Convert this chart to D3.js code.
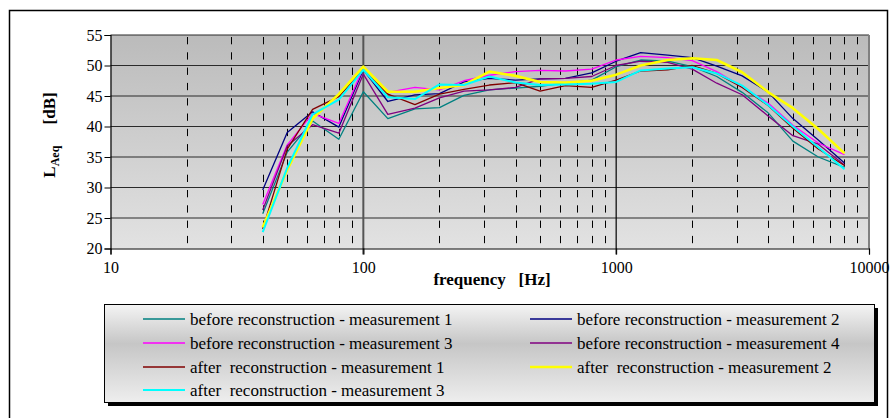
<!DOCTYPE html>
<head>
<title>LAeq before / after reconstruction</title>
<script src="https://d3js.org/d3.v7.min.js"></script>
<style>
  body { margin: 0; background: #fff; }
  svg text { font-family: "Liberation Serif", "Times New Roman", serif; fill: #000; }
</style>
</head>
<body>
<div id="home"></div>
<script>
// third-octave band centre frequencies
const freqs = [40, 50, 63, 80, 100, 125, 160, 200, 250, 315, 400, 500, 630, 800,
               1000, 1250, 1600, 2000, 2500, 3150, 4000, 5000, 6300, 8000];

const before1 = [25.7, 35.8, 40.9, 37.9, 45.7, 41.3, 42.9, 43.1, 45.1, 46.0, 46.3, 46.6, 47.1, 47.6,
                 49.8, 50.9, 50.7, 49.8, 48.2, 45.6, 42.2, 37.6, 35.0, 33.3];
const before2 = [29.6, 39.0, 42.4, 39.9, 49.3, 44.1, 45.2, 45.4, 47.3, 47.9, 47.6, 47.8, 47.9, 48.8,
                 50.7, 52.1, 51.7, 51.3, 49.9, 48.3, 45.6, 41.3, 37.8, 34.0];
const before3 = [27.2, 37.0, 42.1, 40.5, 49.6, 45.6, 46.4, 46.0, 47.5, 48.4, 49.0, 49.2, 49.1, 49.4,
                 50.9, 51.5, 51.3, 50.8, 49.0, 46.5, 43.8, 40.2, 37.3, 35.4];
const before4 = [26.3, 36.8, 40.3, 38.9, 48.6, 42.0, 43.0, 44.7, 45.8, 46.0, 46.4, 47.8, 47.9, 48.2,
                 50.0, 50.7, 50.5, 49.4, 47.1, 45.2, 41.7, 38.5, 37.1, 33.7];
const after1  = [23.2, 36.3, 42.8, 44.9, 49.3, 45.3, 43.6, 45.3, 46.1, 46.8, 47.2, 45.8, 46.7, 46.4,
                 47.6, 49.1, 49.3, 50.0, 48.7, 46.4, 43.4, 39.7, 36.3, 33.6];
const after2  = [23.5, 32.9, 41.3, 45.3, 49.8, 45.7, 45.7, 46.3, 46.8, 49.0, 48.3, 47.3, 47.2, 47.5,
                 48.5, 50.0, 50.9, 51.2, 50.9, 48.9, 45.6, 43.0, 39.6, 35.6];
const after3  = [22.7, 33.2, 42.0, 44.4, 49.3, 44.8, 44.5, 46.9, 46.8, 48.2, 47.2, 46.8, 46.9, 47.0,
                 47.3, 49.2, 49.5, 49.7, 48.7, 46.7, 43.5, 40.0, 36.6, 33.0];

const seriesNames = ["before reconstruction - measurement 1", "before reconstruction - measurement 2",
                     "before reconstruction - measurement 3", "before reconstruction - measurement 4",
                     "after  reconstruction - measurement 1", "after  reconstruction - measurement 2",
                     "after  reconstruction - measurement 3"];
const seriesValues = [before1, before2, before3, before4, after1, after2, after3];
const seriesColors = ["#008080", "#000080", "#ff00ff", "#800080", "#800000", "#ffff00", "#00ffff"];
const seriesWidths = [1.3, 1.3, 1.3, 1.3, 1.3, 2.6, 2];

const yTicks = [20, 25, 30, 35, 40, 45, 50, 55];
const xTicks = [10, 100, 1000, 10000];
const minorFreqs = [20, 30, 40, 50, 60, 70, 80, 90, 200, 300, 400, 500, 600, 700, 800, 900,
                    2000, 3000, 4000, 5000, 6000, 7000, 8000, 9000];

const serif = "'Liberation Serif', 'Times New Roman', serif";
const w = 890, h = 418;
const svg = d3.select("#home").append("svg").attr("width", w).attr("height", h)
              .attr("font-family", serif);

const defs = svg.append("defs");
const pg = defs.append("linearGradient").attr("id", "plotbg").attr("x1", 0).attr("y1", 0).attr("x2", 0).attr("y2", 1);
pg.append("stop").attr("offset", 0).attr("stop-color", "#bbbbbb");
pg.append("stop").attr("offset", 1).attr("stop-color", "#e2e2e2");
const lg = defs.append("linearGradient").attr("id", "legbg").attr("x1", 0).attr("y1", 0).attr("x2", 0).attr("y2", 1);
lg.append("stop").attr("offset", 0).attr("stop-color", "#f4f4f4");
lg.append("stop").attr("offset", 0.4).attr("stop-color", "#c6c6c6");
lg.append("stop").attr("offset", 1).attr("stop-color", "#eeeeee");

// outer frame
svg.append("rect").attr("x", 9.5).attr("y", 10.5).attr("width", 878).attr("height", 430)
   .attr("fill", "none").attr("stroke", "#000").attr("stroke-width", 1.5);

const x = d3.scaleLog().domain([10, 10000]).range([110.5, 869]);
const y = d3.scaleLinear().domain([20, 55]).range([248.5, 35]);

svg.append("rect").attr("x", x(10)).attr("y", y(55)).attr("width", x(10000) - x(10)).attr("height", y(20) - y(55))
   .attr("fill", "url(#plotbg)");

// horizontal grid
svg.selectAll(".hgrid").data(yTicks.slice(1)).enter().append("line")
   .attr("x1", x(10)).attr("x2", x(10000)).attr("y1", d => y(d)).attr("y2", d => y(d))
   .attr("stroke", "#2a2a2a").attr("stroke-width", 1.2);

// vertical dashed grid
svg.selectAll(".vgrid").data(minorFreqs).enter().append("line")
   .attr("x1", d => Math.round(x(d)) + 0.5).attr("x2", d => Math.round(x(d)) + 0.5)
   .attr("y1", y(55) + 2).attr("y2", y(20))
   .attr("stroke", "#000").attr("stroke-width", 1).attr("stroke-dasharray", "7.3,8");

svg.append("line").attr("x1", x(100)).attr("x2", x(100)).attr("y1", y(55)).attr("y2", y(20) + 6)
   .attr("stroke", "#555").attr("stroke-width", 2);
svg.append("line").attr("x1", x(1000)).attr("x2", x(1000)).attr("y1", y(55)).attr("y2", y(20) + 6)
   .attr("stroke", "#000").attr("stroke-width", 1.2);
svg.append("line").attr("x1", x(10000)).attr("x2", x(10000)).attr("y1", y(55)).attr("y2", y(20))
   .attr("stroke", "#808080").attr("stroke-width", 2);

// axes
const yAxis = d3.axisLeft(y).tickValues(yTicks).tickSize(6).tickPadding(2);
svg.append("g").attr("transform", "translate(" + x(10) + ",0)").call(yAxis)
   .attr("font-family", serif).attr("font-size", 16)
   .call(g => g.select(".domain").attr("stroke-width", 1.2));
const xAxis = d3.axisBottom(x).tickValues(xTicks).tickFormat(d3.format("d")).tickSize(6).tickPadding(7);
svg.append("g").attr("transform", "translate(0," + y(20) + ")").call(xAxis)
   .attr("font-family", serif).attr("font-size", 16)
   .call(g => g.select(".domain").attr("stroke-width", 1.2));

// series
const line = d3.line().x((d, i) => x(freqs[i])).y(d => y(d));
svg.selectAll(".series").data(seriesValues).enter().append("path")
   .attr("d", d => line(d)).attr("fill", "none")
   .attr("stroke", (d, i) => seriesColors[i]).attr("stroke-width", (d, i) => seriesWidths[i])
   .attr("stroke-linejoin", "round");

// axis titles
const yt = svg.append("text").attr("transform", "translate(55,135) rotate(-90)")
   .attr("text-anchor", "middle").attr("font-size", 17).attr("font-weight", "bold")
   .style("white-space", "pre");
yt.append("tspan").text("L");
yt.append("tspan").attr("font-size", 12).attr("dy", 4).text("Aeq");
yt.append("tspan").attr("dy", -4).text("     [dB]");

svg.append("text").attr("x", 492).attr("y", 285).attr("text-anchor", "middle")
   .attr("font-size", 17).attr("font-weight", "bold").style("white-space", "pre")
   .text("frequency   [Hz]");

// legend
const lx = 104, ly = 304, lw = 770, lh = 98;
svg.append("rect").attr("x", lx + 4).attr("y", ly + 4).attr("width", lw).attr("height", lh).attr("fill", "#000");
svg.append("rect").attr("x", lx + 0.5).attr("y", ly + 0.5).attr("width", lw).attr("height", lh)
   .attr("fill", "url(#legbg)").attr("stroke", "#000").attr("stroke-width", 1);

const colX = [143, 530], rowY = [319, 343, 367, 390];
const items = svg.selectAll(".leg").data(seriesNames).enter().append("g")
   .attr("transform", (d, i) => "translate(" + colX[i % 2] + "," + rowY[Math.floor(i / 2)] + ")");
items.append("line").attr("x1", 0).attr("x2", 42).attr("y1", 0).attr("y2", 0)
   .attr("stroke", (d, i) => seriesColors[i]).attr("stroke-width", (d, i) => Math.min(seriesWidths[i], 2.5));
items.append("text").attr("x", 47).attr("y", 5.5).attr("font-size", 17).style("white-space", "pre")
   .text(d => d);
</script>
</body>
